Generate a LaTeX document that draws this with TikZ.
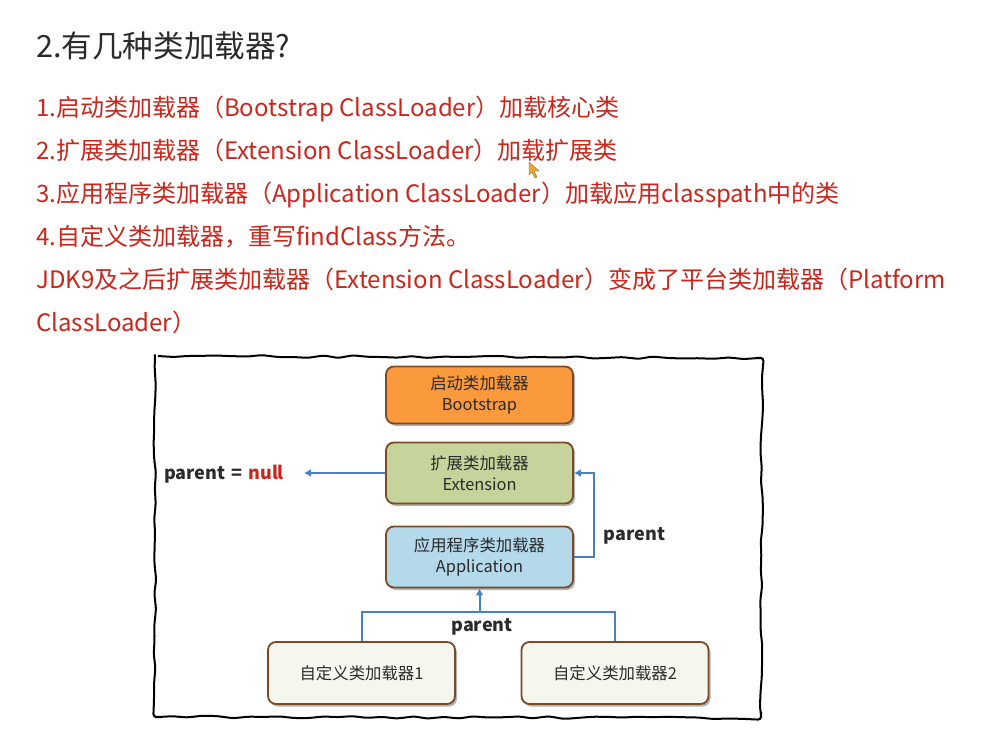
\documentclass[tikz,border=0pt]{standalone}
\usepackage{xcolor}
\usepackage{fontspec}
\setmainfont{Noto Sans CJK SC}
\usetikzlibrary{arrows.meta,shadows,decorations.pathmorphing}
\definecolor{notered}{HTML}{C9261C}
\definecolor{titleink}{HTML}{2B2B2B}
\definecolor{boxedge}{HTML}{7A4B26}
\definecolor{bootfill}{HTML}{FA9A3C}
\definecolor{extfill}{HTML}{C4D49B}
\definecolor{appfill}{HTML}{B3D9EB}
\definecolor{userfill}{HTML}{F5F7EF}
\definecolor{linkblue}{HTML}{4A80C4}
\definecolor{cursorgold}{HTML}{F0A81E}
\tikzset{
  noteline/.style={anchor=base west,inner sep=0pt,text=notered,font=\fontsize{24}{24}\selectfont},
  loaderbox/.style={draw=boxedge,line width=1.8pt,rounded corners=8pt,minimum width=187pt,
    align=center,text=titleink,font=\fontsize{16.4}{20.5}\selectfont,
    drop shadow={shadow xshift=2pt,shadow yshift=-2.5pt,opacity=0.3,fill=black}},
  parentlabel/.style={inner sep=0pt,text=titleink,font=\fontsize{18}{18}\selectfont\bfseries},
  parentlink/.style={draw=linkblue,line width=2pt},
  parentarrow/.style={parentlink,-{Latex[length=7pt,width=8pt]}}
}

\begin{document}
\begin{tikzpicture}[x=1pt,y=-1pt]
  \useasboundingbox (0,0) rectangle (985,741);
  \fill[white] (0,0) rectangle (985,741);

  \node[anchor=base west,inner sep=0pt,text=titleink,font=\fontsize{30.6}{31}\selectfont] (title) at (36,58) {2.有几种类加载器?};

  \foreach \y/\name/\txt in {
    116.5/noteA/{1.启动类加载器（Bootstrap ClassLoader）加载核心类},
    159.5/noteB/{2.扩展类加载器（Extension ClassLoader）加载扩展类},
    202.5/noteC/{3.应用程序类加载器（Application ClassLoader）加载应用classpath中的类},
    245.5/noteD/{4.自定义类加载器，重写findClass方法。},
    288/noteE/{JDK9及之后扩展类加载器（Extension ClassLoader）变成了平台类加载器（Platform},
    331/noteF/{ClassLoader）}
  } {
    \node[noteline] (\name) at (36,\y) {\txt};
  }

  % mouse pointer
  \fill[cursorgold,draw=black!60,line width=0.3pt] (529,162) -- (529,175) -- (532,172) -- (535,178) -- (537,177) -- (534,171) -- (539,171) -- cycle;

  % hand drawn frame
  \draw[black,line width=2pt,rounded corners=3pt,decorate,
    decoration={random steps,segment length=15pt,amplitude=1.4pt}]
    (155,356) -- (762,358) -- (761,718) -- (155,717) -- cycle;

  \node[loaderbox,fill=bootfill,minimum height=57pt] (bootbox) at (479.5,395) {启动类加载器\\Bootstrap};
  \node[loaderbox,fill=extfill,minimum height=61pt] (extbox) at (479.5,473) {扩展类加载器\\Extension};
  \node[loaderbox,fill=appfill,minimum height=61pt] (appbox) at (479.5,557) {应用程序类加载器\\Application};
  \node[loaderbox,fill=userfill,minimum height=62pt] (userboxA) at (361.5,673) {自定义类加载器1};
  \node[loaderbox,fill=userfill,minimum height=62pt] (userboxB) at (615,673) {自定义类加载器2};

  \node[parentlabel,anchor=base west] (nullabel) at (164,479) {parent\,\,=\,\,\textcolor{notered}{null}};
  \node[parentlabel] (parentA) at (634.5,536) {parent};
  \node[parentlabel] (parentB) at (482,627) {parent};

  \coordinate (nullend) at (304,473);
  \coordinate (appturn) at (594,557);
  \coordinate (userjoin) at (479.5,612);

  \draw[parentarrow] (extbox.west) -- (nullend);
  \draw[parentarrow] (appbox.east) -- (appturn) |- (extbox.east);
  \draw[parentlink] (userboxA.north) |- (userjoin);
  \draw[parentlink] (userboxB.north) |- (userjoin);
  \draw[parentarrow] (userjoin) -- (appbox.south);
\end{tikzpicture}
\end{document}
